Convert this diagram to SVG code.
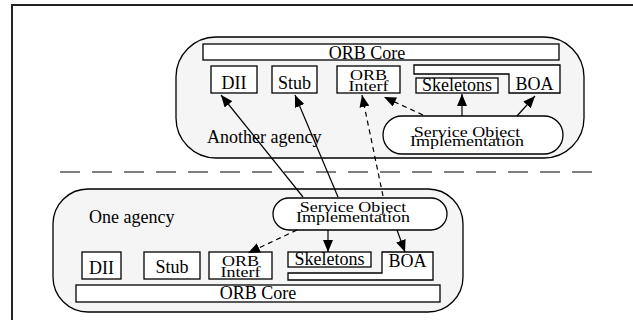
<svg xmlns="http://www.w3.org/2000/svg" width="633" height="320" viewBox="0 0 633 320">
<defs>
<marker id="ah" viewBox="0 0 12 10" refX="12" refY="5" markerWidth="12" markerHeight="10" markerUnits="userSpaceOnUse" orient="auto">
<path d="M0,0 L12,5 L0,10 z" fill="#000"/>
</marker>
<style>
.t{font-family:"Liberation Serif","Times New Roman",serif;font-size:18px;fill:#000}
.m{text-anchor:middle}
.bx{fill:#fff;stroke:#000;stroke-width:1.3}
.ag{fill:#f5f5f5;stroke:#000;stroke-width:1.3}
.c{fill:none;stroke:#000;stroke-width:1.2}
.d{stroke-dasharray:5,4}
</style>
</defs>
<rect x="0" y="0" width="633" height="320" fill="#fff"/>
<path d="M12,322 L12,5 L635,5" fill="none" stroke="#222" stroke-width="2"/>
<line x1="60" y1="172" x2="600" y2="172" stroke="#000" stroke-width="1.2" stroke-dasharray="20,12"/>

<g id="another-agency">
<rect class="ag" x="176" y="37" width="408" height="121" rx="40" ry="40"/>
<text class="t" x="207" y="143">Another agency</text>
</g>
<g id="upper-orb-core">
<rect class="bx" x="203" y="44" width="356" height="16"/>
<text class="t m" x="367" y="59">ORB Core</text>
</g>
<g id="upper-dii">
<rect class="bx" x="211" y="66" width="46" height="27"/>
<text class="t m" x="234" y="89">DII</text>
</g>
<g id="upper-stub">
<rect class="bx" x="272" y="66" width="45" height="27"/>
<text class="t m" x="294.5" y="89">Stub</text>
</g>
<g id="upper-orb-interf">
<rect class="bx" x="337" y="66" width="63" height="27"/>
<text class="t m" transform="translate(368.5,80) scale(1,0.85)">ORB</text>
<text class="t m" transform="translate(368.5,91) scale(1,0.85)">Interf</text>
</g>
<g id="upper-boa">
<path class="bx" d="M414,65 L560,65 L560,93 L509,93 L509,74 L414,74 Z"/>
<text class="t m" x="534.5" y="90">BOA</text>
</g>
<g id="upper-skeletons">
<rect class="bx" x="416" y="78" width="82" height="15"/>
<text class="t m" x="457" y="91">Skeletons</text>
</g>
<g id="upper-service">
<rect class="bx" x="383" y="116" width="180" height="38" rx="19" ry="19"/>
<text class="t m" transform="translate(467,137) scale(1,0.85)">Service Object</text>
<text class="t m" transform="translate(467,146) scale(1,0.85)">Implementation</text>
</g>

<g id="one-agency">
<rect class="ag" x="53" y="189" width="410" height="123" rx="35" ry="35"/>
<text class="t" x="89" y="223">One agency</text>
</g>
<g id="lower-orb-core">
<rect class="bx" x="76" y="285" width="364" height="17"/>
<text class="t m" x="258" y="299">ORB Core</text>
</g>
<g id="lower-dii">
<rect class="bx" x="82" y="252" width="39" height="27"/>
<text class="t m" x="101.5" y="274">DII</text>
</g>
<g id="lower-stub">
<rect class="bx" x="144" y="252" width="56" height="27"/>
<text class="t m" x="172" y="273">Stub</text>
</g>
<g id="lower-orb-interf">
<rect class="bx" x="209" y="252" width="63" height="27"/>
<text class="t m" transform="translate(240.5,266) scale(1,0.85)">ORB</text>
<text class="t m" transform="translate(240.5,277) scale(1,0.85)">Interf</text>
</g>
<g id="lower-boa">
<path class="bx" d="M288,273 L382,273 L382,252 L433,252 L433,280 L288,280 Z"/>
<text class="t m" x="407.5" y="267">BOA</text>
</g>
<g id="lower-skeletons">
<rect class="bx" x="288" y="252" width="83" height="15"/>
<text class="t m" x="329.5" y="265">Skeletons</text>
</g>
<g id="lower-service">
<rect class="bx" x="273" y="198" width="174" height="32" rx="16" ry="16"/>
<text class="t m" transform="translate(353,212) scale(1,0.85)">Service Object</text>
<text class="t m" transform="translate(353,222) scale(1,0.85)">Implementation</text>
</g>

<g id="connectors">
<line class="c" x1="303" y1="197" x2="221" y2="95" marker-end="url(#ah)"/>
<line class="c" x1="338" y1="197" x2="295" y2="95" marker-end="url(#ah)"/>
<line class="c d" x1="383" y1="196" x2="362" y2="95" marker-end="url(#ah)"/>
<line class="c d" x1="423" y1="115" x2="384" y2="97" marker-end="url(#ah)"/>
<line class="c" x1="462" y1="116" x2="462" y2="94" marker-end="url(#ah)"/>
<line class="c" x1="517" y1="116" x2="535" y2="96" marker-end="url(#ah)"/>
<line class="c d" x1="297" y1="230" x2="248" y2="253" marker-end="url(#ah)"/>
<line class="c" x1="328" y1="230" x2="328" y2="252" marker-end="url(#ah)"/>
<line class="c" x1="397" y1="230" x2="405" y2="252" marker-end="url(#ah)"/>
</g>
</svg>
